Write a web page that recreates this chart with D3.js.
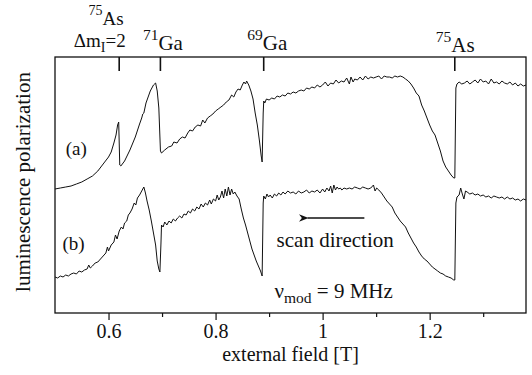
<!DOCTYPE html>
<html>
<head>
<meta charset="utf-8">
<script src="https://cdn.jsdelivr.net/npm/d3@7"></script>
<style>
  body { margin: 0; background: #fff; }
  svg { display: block; font-family: "Liberation Serif", "DejaVu Serif", serif; }
</style>
</head>
<body>
<svg id="chart" width="532" height="375"></svg>
<script>
// resonance positions marked on top of the frame [T]
const resonanceField = [0.619, 0.696, 0.889, 1.246];

// bottom axis ticks
const majorTicks = [0.6, 0.8, 1.0, 1.2];
const minorTicks = [0.7, 0.9, 1.1, 1.3];

// trace (a): [field T, polarization arb. units]
const curveA = [
  [0.500,124],[0.510,125],[0.520,126],[0.530,127],[0.540,129],[0.550,131],[0.560,134],[0.570,137],
  [0.580,142],[0.590,149],[0.600,156],[0.605,161],[0.610,170],[0.614,178],[0.617,188],[0.619,191],
  [0.621,148],[0.623,147],[0.630,152],[0.640,163],[0.650,176],[0.658,189],[0.662,195],[0.664,199],
  [0.666,200],[0.670,210],[0.678,222],[0.684,228],[0.688,230],[0.691,222],[0.694,205],[0.697,162],
  [0.699,160],[0.705,163],[0.712,166],[0.718,167],[0.722,171],[0.728,170],[0.733,174],[0.738,176],
  [0.743,175],[0.748,180],[0.752,183],[0.757,182],[0.762,186],[0.767,188],[0.772,187],[0.776,193],
  [0.780,190],[0.785,195],[0.790,197],[0.795,199],[0.800,202],[0.805,204],[0.810,206],[0.815,208],
  [0.820,211],[0.825,213],[0.830,218],[0.834,216],[0.838,221],[0.842,224],[0.846,223],[0.850,228],
  [0.853,231],[0.856,229],[0.858,232],[0.862,228],[0.866,222],[0.870,214],[0.874,200],[0.878,188],
  [0.882,172],[0.885,158],[0.887,151],[0.889,200],[0.890,212],[0.892,210],[0.895,214],[0.900,213],
  [0.905,215],[0.910,214],[0.915,217],[0.920,216],[0.925,218],[0.930,217],[0.935,220],[0.940,219],
  [0.945,221],[0.950,220],[0.955,222],[0.960,223],[0.965,222],[0.970,225],[0.975,224],[0.980,226],
  [0.985,225],[0.990,228],[0.995,226],[1.000,228],[1.005,231],[1.010,227],[1.015,230],[1.020,229],
  [1.025,233],[1.030,230],[1.035,232],[1.040,231],[1.045,235],[1.050,229],[1.053,236],[1.057,231],
  [1.060,234],[1.065,233],[1.070,236],[1.075,233],[1.080,237],[1.085,234],[1.090,236],[1.095,235],
  [1.100,236],[1.105,237],[1.110,234],[1.115,237],[1.120,236],[1.125,236],[1.130,235],[1.135,237],
  [1.140,236],[1.145,237],[1.150,236],[1.155,234],[1.160,232],[1.165,229],[1.170,225],[1.175,220],
  [1.180,217],[1.185,208],[1.190,202],[1.195,195],[1.200,188],[1.205,182],[1.210,178],[1.215,170],
  [1.220,162],[1.225,152],[1.230,146],[1.235,142],[1.240,138],[1.245,135],[1.247,135],[1.249,225],
  [1.251,229],[1.255,231],[1.260,229],[1.265,230],[1.270,232],[1.275,229],[1.280,231],[1.285,233],
  [1.290,230],[1.295,234],[1.300,231],[1.305,232],[1.310,229],[1.315,234],[1.320,230],[1.325,231],
  [1.330,229],[1.335,232],[1.340,230],[1.345,229],[1.350,231],[1.355,228],[1.360,230],[1.365,227],
  [1.370,229],[1.375,227],[1.380,228]
];

// trace (b)
const curveB = [
  [0.500,36],[0.505,35],[0.510,37],[0.515,36],[0.520,38],[0.525,37],[0.530,39],[0.535,40],
  [0.540,39],[0.545,42],[0.550,41],[0.555,43],[0.560,44],[0.563,48],[0.566,45],[0.570,47],
  [0.575,50],[0.580,51],[0.585,54],[0.590,57],[0.595,60],[0.598,66],[0.600,62],[0.605,68],
  [0.610,71],[0.613,78],[0.616,74],[0.620,82],[0.624,86],[0.627,84],[0.630,90],[0.634,92],
  [0.637,98],[0.640,100],[0.644,104],[0.648,110],[0.651,108],[0.654,115],[0.658,118],[0.661,121],
  [0.664,124],[0.666,126],[0.669,120],[0.672,112],[0.676,103],[0.680,92],[0.684,80],[0.688,68],
  [0.691,52],[0.694,44],[0.696,41],[0.698,70],[0.699,88],[0.702,86],[0.705,91],[0.709,88],
  [0.713,92],[0.717,90],[0.721,94],[0.725,92],[0.729,95],[0.733,97],[0.737,95],[0.741,99],
  [0.745,98],[0.749,102],[0.753,100],[0.757,104],[0.761,102],[0.765,106],[0.769,104],[0.773,109],
  [0.777,106],[0.781,110],[0.785,108],[0.789,113],[0.792,109],[0.796,114],[0.800,112],[0.803,118],
  [0.806,113],[0.809,116],[0.812,122],[0.815,115],[0.818,124],[0.821,117],[0.824,126],[0.827,118],
  [0.830,124],[0.833,119],[0.836,121],[0.840,117],[0.844,114],[0.848,104],[0.852,95],[0.856,88],
  [0.860,80],[0.864,72],[0.868,64],[0.872,58],[0.876,52],[0.880,47],[0.884,42],[0.887,37],
  [0.889,110],[0.890,117],[0.893,114],[0.896,119],[0.899,116],[0.902,118],[0.906,115],[0.910,119],
  [0.914,117],[0.918,120],[0.922,118],[0.926,121],[0.930,119],[0.935,122],[0.940,120],[0.945,121],
  [0.950,119],[0.955,122],[0.960,120],[0.965,121],[0.970,123],[0.975,120],[0.980,122],[0.985,121],
  [0.990,123],[0.995,120],[1.000,124],[1.004,121],[1.008,125],[1.012,122],[1.015,127],[1.018,120],
  [1.021,128],[1.024,123],[1.027,126],[1.030,124],[1.033,125],[1.036,123],[1.040,125],[1.045,124],
  [1.050,125],[1.055,124],[1.060,126],[1.065,125],[1.070,124],[1.075,126],[1.080,125],[1.085,124],
  [1.090,125],[1.095,128],[1.098,122],[1.101,125],[1.105,123],[1.110,120],[1.115,116],[1.120,112],
  [1.125,109],[1.130,106],[1.135,100],[1.140,96],[1.145,92],[1.150,89],[1.155,86],[1.160,80],
  [1.165,75],[1.170,70],[1.175,66],[1.180,61],[1.185,57],[1.190,54],[1.195,52],[1.200,49],
  [1.205,46],[1.210,44],[1.215,42],[1.220,40],[1.225,39],[1.230,37],[1.235,36],[1.240,35],
  [1.245,33],[1.247,33],[1.249,110],[1.251,116],[1.255,118],[1.258,125],[1.261,119],[1.264,114],
  [1.267,122],[1.270,121],[1.275,119],[1.280,120],[1.285,118],[1.290,119],[1.295,117],[1.300,118],
  [1.305,116],[1.310,117],[1.315,115],[1.320,117],[1.325,116],[1.330,115],[1.335,116],[1.340,114],
  [1.345,116],[1.350,114],[1.355,115],[1.360,113],[1.365,114],[1.370,112],[1.375,114],[1.380,113]
];

const margin = { top: 57, right: 6, bottom: 62, left: 55 };
const W = 532, H = 375;
const width = W - margin.left - margin.right;
const height = H - margin.top - margin.bottom;

const svg = d3.select('#chart');

const x = d3.scaleLinear().domain([0.5, 1.38]).range([margin.left, margin.left + width]);
const y = d3.scaleLinear().domain([0, 256]).range([margin.top + height, margin.top]);

const ink = '#111';
const serif = '"Liberation Serif", "Times New Roman", serif';

// frame
svg.append('rect')
  .attr('x', margin.left).attr('y', margin.top)
  .attr('width', width).attr('height', height)
  .attr('fill', 'none').attr('stroke', ink).attr('stroke-width', 1.3);

// bottom axis, major ticks with labels
const fmt = d => d === 1 ? '1' : d3.format('.1f')(d);
const xAxis = svg.append('g')
  .attr('transform', `translate(0, ${margin.top + height})`)
  .call(d3.axisBottom(x).tickValues(majorTicks).tickFormat(fmt).tickSize(7).tickPadding(4));
xAxis.select('.domain').remove();
xAxis.selectAll('line').attr('stroke', ink).attr('stroke-width', 1.2);
xAxis.selectAll('text')
  .attr('fill', ink)
  .style('font-family', serif)
  .style('font-size', '20px');

// minor ticks
const xMinor = svg.append('g')
  .attr('transform', `translate(0, ${margin.top + height})`)
  .call(d3.axisBottom(x).tickValues(minorTicks).tickFormat('').tickSize(4));
xMinor.select('.domain').remove();
xMinor.selectAll('line').attr('stroke', ink).attr('stroke-width', 1.2);

// resonance markers hanging from the top
const topAxis = svg.append('g')
  .attr('transform', `translate(0, ${margin.top})`)
  .call(d3.axisTop(x).tickValues(resonanceField).tickFormat('').tickSize(-14));
topAxis.select('.domain').remove();
topAxis.selectAll('line').attr('stroke', ink).attr('stroke-width', 1.6);

// traces
const line = d3.line().x(d => x(d[0])).y(d => y(d[1]));
[curveA, curveB].forEach(c => {
  svg.append('path')
    .datum(c)
    .attr('d', line)
    .attr('fill', 'none')
    .attr('stroke', ink)
    .attr('stroke-width', 1)
    .attr('stroke-linejoin', 'round');
});

// labels with superscripts / subscripts
function label(xp, yp, parts, size, anchor) {
  const t = svg.append('text')
    .attr('x', xp).attr('y', yp)
    .attr('text-anchor', anchor || 'start')
    .attr('fill', ink)
    .style('font-family', serif)
    .style('font-size', size + 'px');
  parts.forEach(p => {
    const s = t.append('tspan').text(p.t);
    if (p.sup) s.attr('dy', -10).style('font-size', (size * 0.74) + 'px');
    if (p.sub) s.attr('dy', 5).style('font-size', (size * 0.74) + 'px');
    if (p.back) s.attr('dy', p.back);
  });
  return t;
}

label(x(resonanceField[0]) + 5, 25, [{ t: '75', sup: true }, { t: 'As', back: 10 }], 19, 'end');
label(x(resonanceField[0]) + 7, 47, [{ t: 'Δm' }, { t: 'I', sub: true }, { t: '=2', back: -5 }], 19, 'end');
label(x(resonanceField[1]) + 3, 50, [{ t: '71', sup: true }, { t: 'Ga', back: 10 }], 21, 'middle');
label(x(resonanceField[2]) + 4, 50, [{ t: '69', sup: true }, { t: 'Ga', back: 10 }], 21, 'middle');
label(x(resonanceField[3]) + 1, 52, [{ t: '75', sup: true }, { t: 'As', back: 10 }], 21, 'middle');

label(x(0.52), y(158), [{ t: '(a)' }], 19);
label(x(0.514), y(63), [{ t: '(b)' }], 19);
label(x(0.914), y(66), [{ t: 'scan direction' }], 21);
label(x(0.91), y(15), [{ t: 'ν' }, { t: 'mod', sub: true }, { t: ' = 9 MHz', back: -5 }], 21);

// scan direction arrow
svg.append('defs').append('marker')
  .attr('id', 'head').attr('viewBox', '0 0 10 10')
  .attr('refX', 1).attr('refY', 5)
  .attr('markerWidth', 8).attr('markerHeight', 6)
  .attr('orient', 'auto-start-reverse')
  .append('path').attr('d', 'M10,1 L0,5 L10,9 L7,5 Z').attr('fill', ink);
svg.append('line')
  .attr('x1', x(1.078)).attr('x2', x(0.972))
  .attr('y1', y(95)).attr('y2', y(95))
  .attr('stroke', ink).attr('stroke-width', 1.6)
  .attr('marker-end', 'url(#head)');

// axis titles
svg.append('text')
  .attr('x', x(0.94))
  .attr('y', 361)
  .attr('text-anchor', 'middle')
  .attr('fill', ink)
  .style('font-family', serif)
  .style('font-size', '20px')
  .text('external field [T]');

svg.append('text')
  .attr('transform', `translate(30, ${margin.top + height / 2 - 3}) rotate(-90)`)
  .attr('text-anchor', 'middle')
  .attr('fill', ink)
  .style('font-family', serif)
  .style('font-size', '21px')
  .text('luminescence polarization');
</script>
</body>
</html>
